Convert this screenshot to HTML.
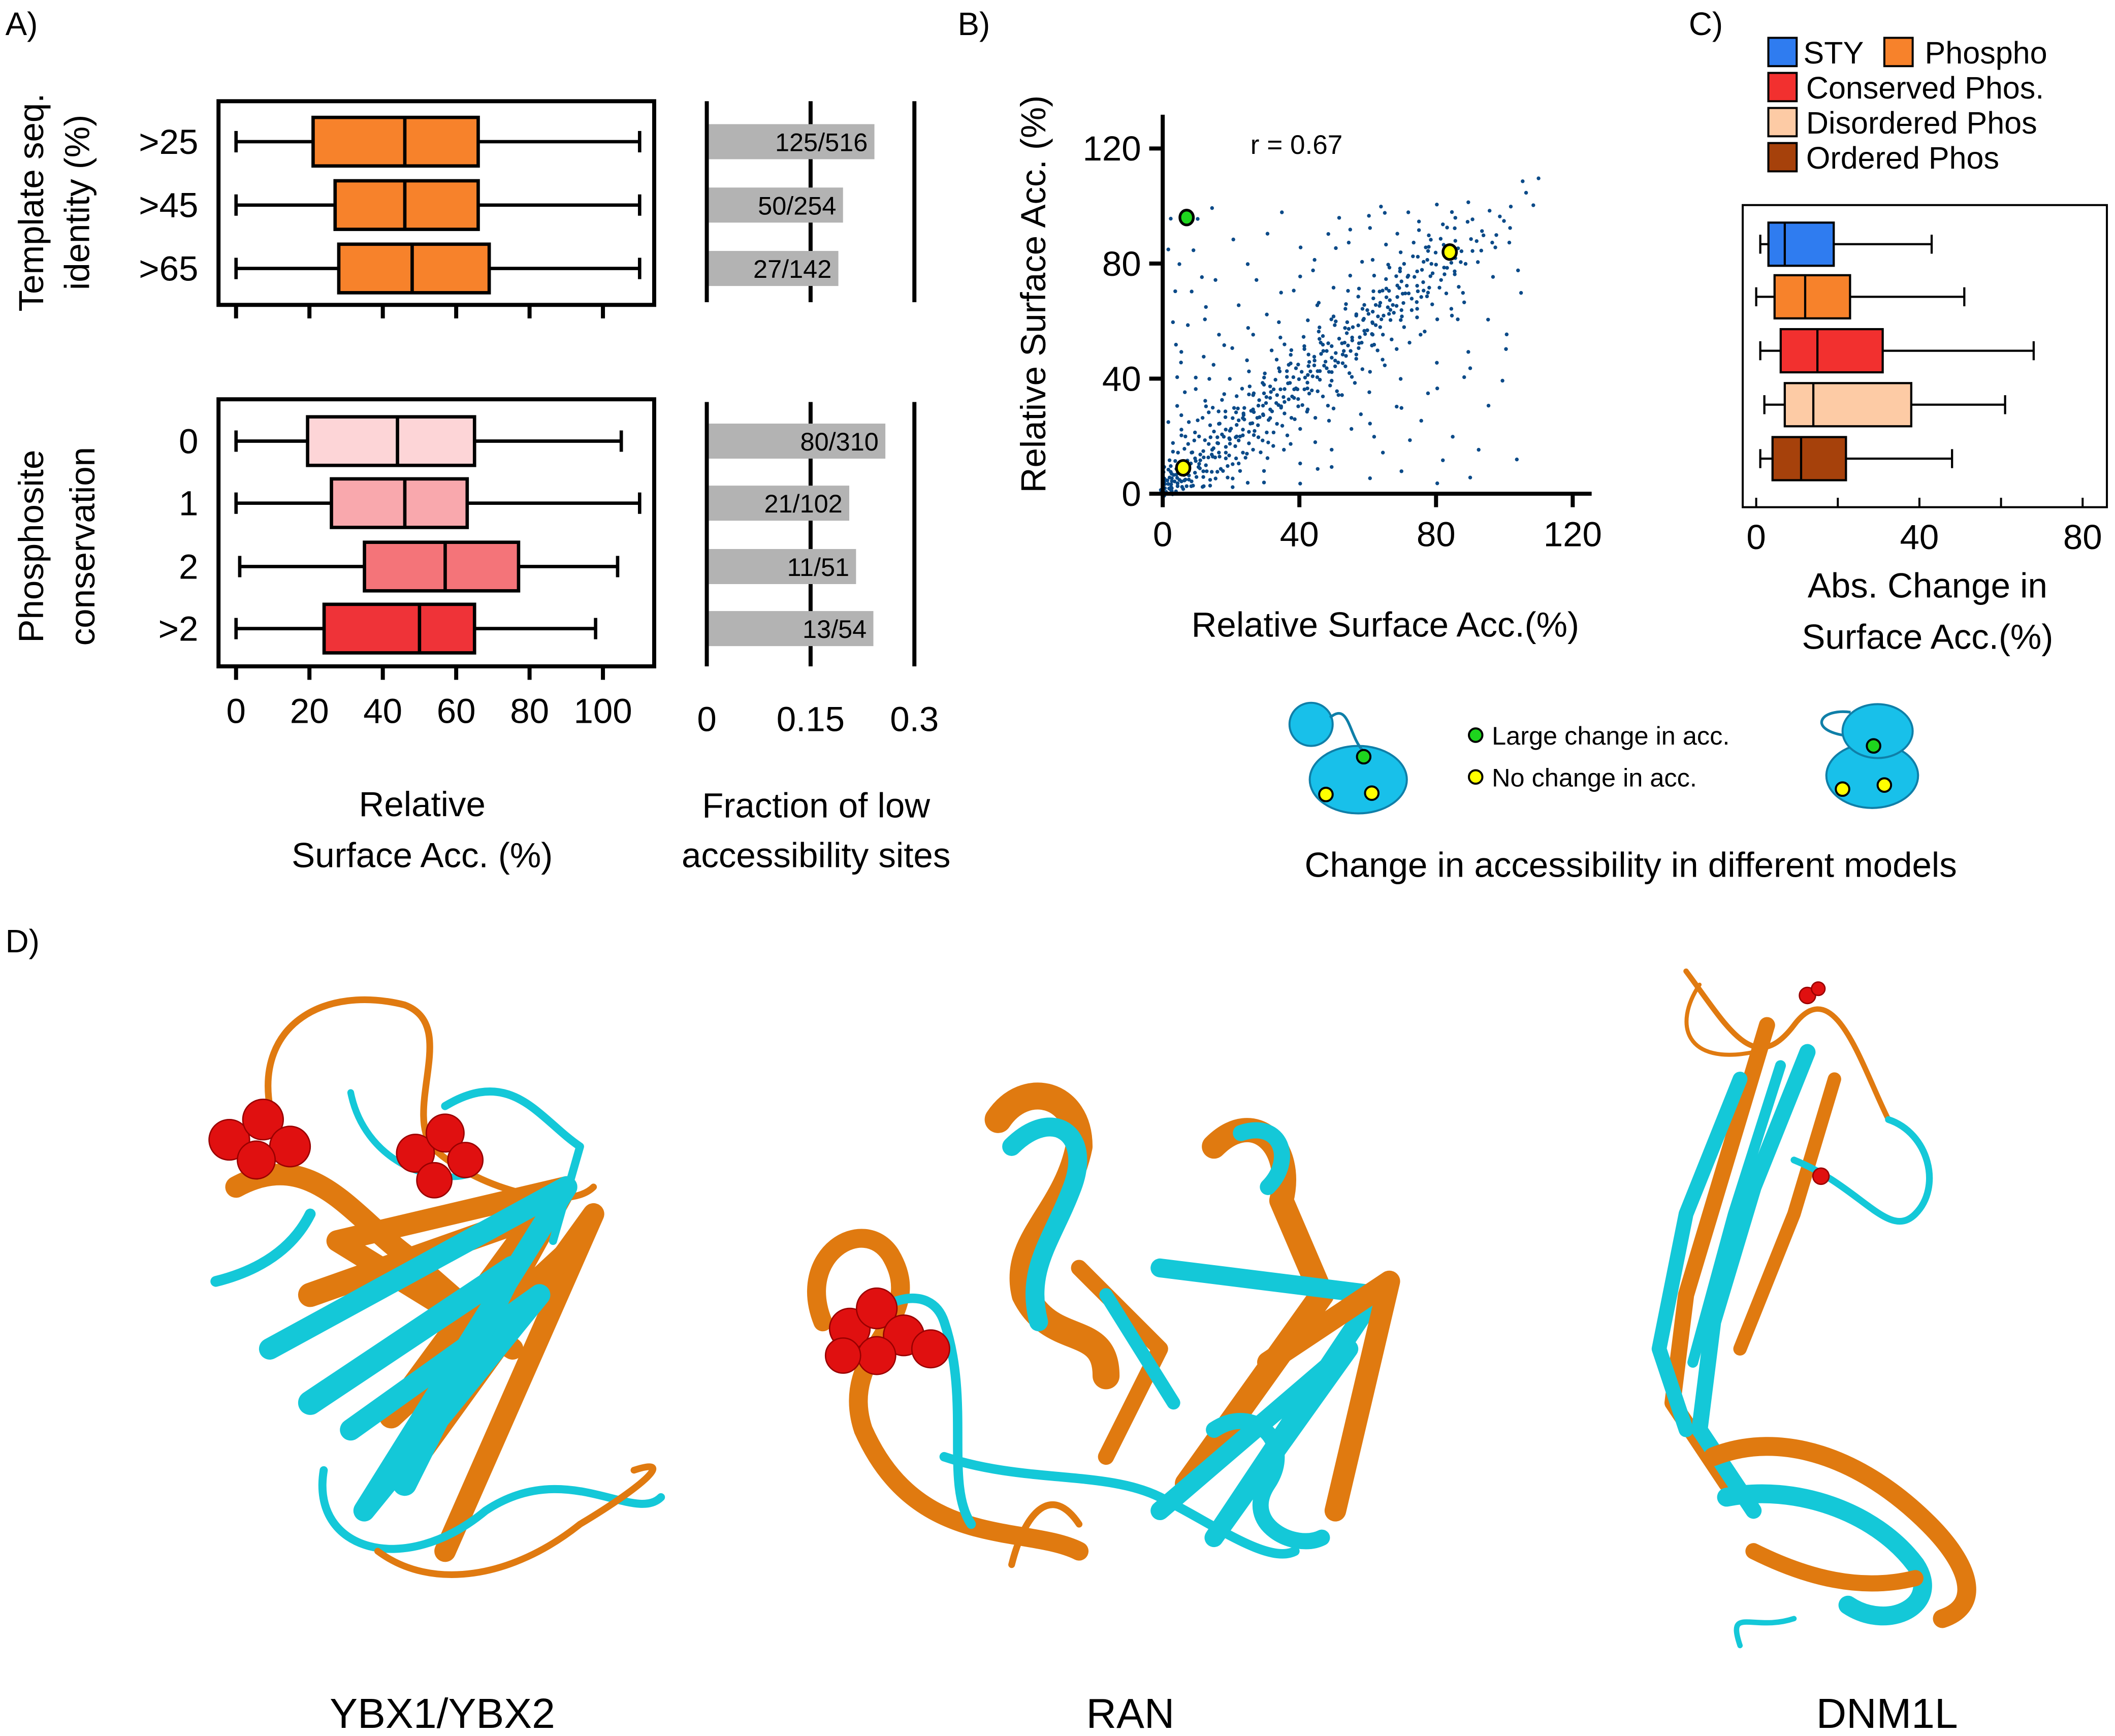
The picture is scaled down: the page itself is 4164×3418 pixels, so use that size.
<!DOCTYPE html>
<html><head><meta charset="utf-8">
<style>
html,body{margin:0;padding:0;background:#fff;}
svg{display:block;font-family:"Liberation Sans",Arial,sans-serif;}
</style></head>
<body>
<svg id="fig" xmlns="http://www.w3.org/2000/svg" width="4164" height="3418" viewBox="0 0 1568 1287">
<rect width="1568" height="1287" fill="#fff"/>
<g id="pa"></g>
<g id="pb"></g>
<g id="pc"></g>
<g id="pd"></g>
</svg>
<script>
// ---------- data ----------
const topCats = [">25", ">45", ">65"];
const topStats = [[0,21,46,66,110],[0,27,46,66,110],[0,28,48,69,110]];
const botCats = ["0","1","2",">2"];
const botStats = [[0,19.5,44,65,105],[0,26,46,63,110],[1,35,57,77,104],[0,24,50,65,98]];
const botColors = ["#fdd5d7","#f9a8ad","#f47479","#ef3338"];
const fracTopLabels = ["125/516","50/254","27/142"];
const fracTopNum = [125,50,27], fracTopDen = [516,254,142];
const fracBotLabels = ["80/310","21/102","11/51","13/54"];
const fracBotNum = [80,21,11,13], fracBotDen = [310,102,51,54];
const rsaTicks = [0,20,40,60,80,100];
const fracTicks = [0,0.15,0.3];
const fracTickLabels = ["0","0.15","0.3"];
const cCats = ["STY","Phospho","Conserved Phos.","Disordered Phos","Ordered Phos"];
const cStats = [[1,3,7,19,43],[0,4.5,12,23,51],[1,6,15,31,68],[2,7,14,38,61],[1,4,11,22,48]];
const cColors = ["#2f7cf0","#f7822b","#f2302f","#fdcba5","#a6410b"];
const cTicks = [0,40,80];
const bTicks = [0,40,80,120];
const scatterPts = "1,1 2,3 3,1 4,5 1,6 5,2 6,7 2,9 7,3 3,4 8,8 5,10 9,5 1,3 4,1 6,4 2,12 10,9 3,7 7,11 0,2 1,8 12,6 8,2 11,12 4,14 1,2 2,1 3,3 2,5 5,5 4,3 6,2 0,4 1,5 3,6 5,8 7,6 9,3 2,7 4,9 6,9 8,5 0,7 1,10 3,11 2,2 1,4 4,7 5,4 3,2 6,6 0,1 2,4 12,15 15,12 14,20 18,16 20,22 22,18 17,25 25,24 24,30 28,26 19,10 13,28 27,35 30,31 32,27 26,20 21,30 35,33 33,40 38,36 36,28 29,38 31,22 40,42 37,45 42,38 16,8 23,14 11,20 9,18 34,25 39,30 43,35 44,47 46,43 41,50 48,46 45,40 50,52 52,48 47,55 53,57 55,50 49,42 51,60 57,58 58,53 56,62 60,64 62,58 59,66 63,70 65,62 61,55 66,72 68,68 70,74 67,65 72,70 74,77 71,80 76,73 78,82 75,68 80,84 82,78 77,86 84,80 86,88 83,92 88,85 90,95 92,88 5,45 3,60 8,70 2,85 10,95 15,100 20,88 25,80 12,60 18,52 6,35 14,40 22,65 28,75 30,90 35,98 40,85 34,60 26,55 8,25 4,30 16,75 24,46 32,50 38,70 44,78 48,90 52,96 45,65 55,88 60,92 64,100 58,80 50,72 42,60 36,52 54,70 62,82 68,90 72,98 66,78 75,95 78,88 85,98 80,100 90,102 95,98 100,95 105,108 110,110 108,100 98,90 92,80 102,88 96,75 88,70 86,60 104,78 20,5 30,8 40,3 50,10 60,5 70,8 80,3 90,6 35,15 45,18 55,22 65,15 75,25 85,20 95,30 50,30 60,35 70,40 80,45 90,50 100,55 105,70 55,40 65,45 75,55 85,62 95,60 100,40 30,12 25,4 45,8 58,28 68,30 78,35 88,40 38,18 48,25 62,20 72,18 82,12 92,15 104,12 42,28 52,35 10,10 12,8 14,13 16,18 18,14 20,19 22,25 24,21 26,28 28,24 30,33 32,29 34,36 36,32 38,40 40,37 42,44 44,41 46,48 48,44 50,46 52,54 54,51 56,55 58,60 60,57 62,65 64,61 66,67 68,63 70,69 72,73 74,70 76,78 78,75 80,80 13,17 17,13 21,16 19,23 23,27 27,22 29,30 31,26 33,34 35,30 37,38 39,34 41,40 43,46 45,42 47,50 49,47 51,49 53,52 55,58 57,54 59,61 61,59 63,62 65,68 67,64 69,71 71,67 73,75 15,16 17,20 11,14 9,12 13,10 7,9 6,11 8,14 10,6 14,7 15,22 19,19 23,20 25,17 27,30 31,35 34,31 36,40 39,44 42,41 44,36 47,44 49,53 52,45 54,56 57,50 59,57 61,63 64,58 66,62 69,66 71,75 73,68 76,70 79,77 81,74 84,84 87,80 20,14 16,24 24,26 18,28 28,20 32,36 40,33 46,52 50,40 56,48 62,52 64,70 70,62 74,64 78,70 82,86 86,78 90,84 94,90 97,85 12,3 15,5 18,8 22,10 9,15 11,2 14,3 6,15 3,18 5,22 7,20 10,25 13,33 9,40 4,52 7,58 12,48 16,55 20,40 23,36 10,22 12,30 14,5 16,28 18,35 20,10 22,34 24,12 26,38 28,14 30,42 32,16 34,44 36,20 38,50 40,22 42,52 44,26 46,58 48,30 50,62 52,34 54,66 56,38 58,72 60,42 62,76 64,46 66,80 68,50 70,84 72,52 74,88 76,56 78,90 80,60 82,94 84,64 86,96 88,66 8,18 11,26 13,8 17,32 19,6 21,28 23,8 25,34 27,16 29,40 31,18 33,46 35,24 37,48 39,26 41,54 43,30 45,56 47,34 49,60 51,36 53,64 55,42 57,68 59,44 61,70 63,50 65,74 67,54 69,78 71,58 73,82 75,62 77,84 79,66 81,88 83,70 85,92 87,72 89,94 6,28 9,36 15,45 20,50 25,58 30,62 35,70 40,75 45,82 50,85 55,92 60,96 65,98 20,2 30,4 40,10 50,16 60,24 70,30 80,36 90,44 100,50 15,30 25,42 35,55 45,66 55,76 65,86 75,92 18,12 22,20 26,24 30,28 34,30 38,34 42,36 46,40 50,44 54,48 58,52 62,56 66,60 70,64 74,66 78,72 82,76 86,82 90,88 94,92 98,96 102,100 106,104 17,9 21,12 25,14 29,18 33,22 37,26 41,31 45,35 49,38 53,44 57,47 61,51 65,56 69,60 73,64 77,68 81,72 85,76 89,80 93,84 97,88 101,92 14,24 18,26 22,30 26,34 30,38 34,42 38,46 42,48 46,54 50,58 54,60 58,64 62,68 66,70 70,78 74,82 78,86 12,18 16,20 20,26 24,28 28,32 32,34 36,38 40,40 44,44 48,50 52,52 56,58 60,62 64,66 68,72 72,76 76,80 3,15 5,20 2,25 4,40 6,50 3,70 5,80 2,95 9,85 11,75 13,65 0,0 1,0 0,3 3,0 4,2 2,6 5,7 7,5 8,10 10,8 9,11 11,9 13,12 12,13 14,15 15,13 16,17 17,15 19,17 18,20 21,19 20,23 23,22 22,24 25,21 24,27 27,26 26,29 29,27 28,31 31,29 30,35 33,31 32,38 35,36 37,33 36,42 39,37 41,36 40,45 43,42 45,47 48,42 47,52 51,45 53,50 55,53 57,62 59,55 62,60 63,66 66,65 68,75 71,70 74,72 79,80 83,78 87,86";
const scatterX = scatterPts.split(" ").map(p=>+p.split(",")[0]);
const scatterY = scatterPts.split(" ").map(p=>+p.split(",")[1]);
const highlightX = [7, 84, 6];
const highlightY = [96, 84, 9];
const highlightFill = ["#1ed51e","#ffff00","#ffff00"];

// ---------- helpers ----------
const NS="http://www.w3.org/2000/svg";
function mk(parent,tag,attrs,text){const e=document.createElementNS(NS,tag);for(const k in attrs)e.setAttribute(k,attrs[k]);if(text!==undefined)e.textContent=text;parent.appendChild(e);return e;}
const pa=document.getElementById('pa'),pb=document.getElementById('pb'),pc=document.getElementById('pc'),pd=document.getElementById('pd');
const TXT={fill:"#000","font-size":"26"};

// ---------- panel A ----------
let t=mk(pa,'text',{x:4,y:26,"font-size":"24"},"A)");


const ax = v => 175 + v*2.72;
function boxplot(g,stats,cy,h,color,xf,sw){
  const [mn,q1,md,q3,mx]=stats;
  let l=mk(g,'line',{x1:xf(mn),x2:xf(q1),y1:cy,y2:cy,stroke:"#000","stroke-width":sw});
  
  
  l=mk(g,'line',{x1:xf(q3),x2:xf(mx),y1:cy,y2:cy,stroke:"#000","stroke-width":sw});
  
  
  l=mk(g,'line',{x1:xf(mn),x2:xf(mn),y1:cy-h*0.22,y2:cy+h*0.22,stroke:"#000","stroke-width":sw});
  
  
  l=mk(g,'line',{x1:xf(mx),x2:xf(mx),y1:cy-h*0.22,y2:cy+h*0.22,stroke:"#000","stroke-width":sw});
  
  
  const r=mk(g,'rect',{x:xf(q1),y:cy-h/2,width:xf(q3)-xf(q1),height:h,fill:color,stroke:"#000","stroke-width":sw});
  
  
  l=mk(g,'line',{x1:xf(md),x2:xf(md),y1:cy-h/2,y2:cy+h/2,stroke:"#000","stroke-width":sw});
  
  
}
let fr=mk(pa,'rect',{x:162,y:75,width:323,height:151,fill:"none",stroke:"#000","stroke-width":3});


const topY=[105,152,199];
topCats.forEach((c,i)=>{
  const g=mk(pa,'g',{});
  
  
  boxplot(g,topStats[i],topY[i],36,"#f7822b",ax,2.5);
  const lt=mk(pa,'text',Object.assign({x:147,y:topY[i]+9,"text-anchor":"end"},TXT),c);
  
  
});
rsaTicks.forEach(v=>{const l=mk(pa,'line',{x1:ax(v),x2:ax(v),y1:226,y2:236,stroke:"#000","stroke-width":3});
  
  });
t=mk(pa,'text',{x:0,y:0,"font-size":"26",transform:"translate(32,150) rotate(-90)","text-anchor":"middle"},"Template seq.");


t=mk(pa,'text',{x:0,y:0,"font-size":"26",transform:"translate(66,150) rotate(-90)","text-anchor":"middle"},"identity (%)");


fr=mk(pa,'rect',{x:162,y:296,width:323,height:198,fill:"none",stroke:"#000","stroke-width":3});


const botY=[327,373,420,466];
botCats.forEach((c,i)=>{
  const g=mk(pa,'g',{});
  
  
  boxplot(g,botStats[i],botY[i],36,botColors[i],ax,2.5);
  const lt=mk(pa,'text',Object.assign({x:147,y:botY[i]+9,"text-anchor":"end"},TXT),c);
  
  
});
rsaTicks.forEach(v=>{const l=mk(pa,'line',{x1:ax(v),x2:ax(v),y1:494,y2:504,stroke:"#000","stroke-width":3});
  
  
  const tl=mk(pa,'text',Object.assign({x:ax(v),y:536,"text-anchor":"middle"},TXT),String(v));
  
  });
t=mk(pa,'text',{x:0,y:0,"font-size":"26",transform:"translate(32,405) rotate(-90)","text-anchor":"middle"},"Phosphosite");


t=mk(pa,'text',{x:0,y:0,"font-size":"26",transform:"translate(70,405) rotate(-90)","text-anchor":"middle"},"conservation");


t=mk(pa,'text',Object.assign({x:313,y:605,"text-anchor":"middle"},TXT),"Relative");


t=mk(pa,'text',Object.assign({x:313,y:643,"text-anchor":"middle"},TXT),"Surface Acc. (%)");


const fx = v => 524 + v*513;
[[75,224],[298,494]].forEach(([y1,y2])=>{
  fracTicks.forEach(v=>{const l=mk(pa,'line',{x1:fx(v),x2:fx(v),y1:y1,y2:y2,stroke:"#000","stroke-width":3});
    
    });
});
function fracBars(labels,num,den,ys){
  labels.forEach((lab,i)=>{
    const v=num[i]/den[i];
    const r=mk(pa,'rect',{x:fx(0)+1.5,y:ys[i]-13,width:fx(v)-fx(0)-1.5,height:26,fill:"#b3b3b3"});
    
    
    const tl=mk(pa,'text',{x:fx(v)-5,y:ys[i]+7,"text-anchor":"end","font-size":"19"},lab);
    
    
  });
}
fracBars(fracTopLabels,fracTopNum,fracTopDen,topY);
fracBars(fracBotLabels,fracBotNum,fracBotDen,botY);
fracTicks.forEach((v,i)=>{const tl=mk(pa,'text',Object.assign({x:fx(v),y:542,"text-anchor":"middle"},TXT),fracTickLabels[i]);
  
  });
t=mk(pa,'text',Object.assign({x:605,y:606,"text-anchor":"middle"},TXT),"Fraction of low");


t=mk(pa,'text',Object.assign({x:605,y:643,"text-anchor":"middle"},TXT),"accessibility sites");



// ---------- panel B ----------
t=mk(pb,'text',{x:710,y:26,"font-size":"24"},"B)");


const bx=v=>862+v*2.533, by=v=>366-v*2.133;
const jx=[0,1.2,-0.9,0.6,-1.4,1.7,-0.3,0.9];
const jy=[0.8,-1.1,0.4,-0.6,1.5,-1.3,0.2,-0.8];
scatterX.forEach((x,i)=>{const c=mk(pb,'circle',{cx:bx(x)+jx[i%8],cy:by(scatterY[i])+jy[(i*3)%8],r:1.4,fill:"#0b4a88"});
  
  });
highlightX.forEach((x,i)=>{const c=mk(pb,'ellipse',{cx:bx(x),cy:by(highlightY[i]),rx:5,ry:5.5,fill:highlightFill[i],stroke:"#000","stroke-width":2});
  
  });
let l=mk(pb,'line',{x1:862,x2:862,y1:85,y2:368,stroke:"#000","stroke-width":3});


l=mk(pb,'line',{x1:860,x2:1180,y1:366,y2:366,stroke:"#000","stroke-width":3});


bTicks.forEach(v=>{
  let k=mk(pb,'line',{x1:bx(v),x2:bx(v),y1:366,y2:376,stroke:"#000","stroke-width":3});
  
  
  k=mk(pb,'line',{x1:852,x2:862,y1:by(v),y2:by(v),stroke:"#000","stroke-width":3});
  
  
  let tl=mk(pb,'text',Object.assign({x:bx(v),y:405,"text-anchor":"middle"},TXT),String(v));
  
  
  tl=mk(pb,'text',Object.assign({x:846,y:by(v)+9,"text-anchor":"end"},TXT),String(v));
  
  
});
t=mk(pb,'text',{x:927,y:114,"font-size":"20"},"r = 0.67");


t=mk(pb,'text',Object.assign({x:1027,y:472,"text-anchor":"middle"},TXT),"Relative Surface Acc.(%)");


t=mk(pb,'text',{x:0,y:0,"font-size":"26",transform:"translate(775,218) rotate(-90)","text-anchor":"middle"},"Relative Surface Acc. (%)");


const sch=mk(pb,'g',{});


mk(sch,'ellipse',{cx:1007,cy:578,rx:36,ry:25,fill:"#18c0ea",stroke:"#0f7fa8","stroke-width":1.5});
mk(sch,'ellipse',{cx:972,cy:537,rx:16,ry:16,fill:"#18c0ea",stroke:"#0f7fa8","stroke-width":1.5});
mk(sch,'path',{d:"M986,532 C1000,520 1000,545 1010,556",fill:"none",stroke:"#0f7fa8","stroke-width":2});
mk(sch,'circle',{cx:1011,cy:561,r:5,fill:"#1ed51e",stroke:"#000","stroke-width":1.5});
mk(sch,'circle',{cx:983,cy:589,r:5,fill:"#ffff00",stroke:"#000","stroke-width":1.5});
mk(sch,'circle',{cx:1017,cy:588,r:5,fill:"#ffff00",stroke:"#000","stroke-width":1.5});
mk(sch,'ellipse',{cx:1388,cy:575,rx:34,ry:24,fill:"#18c0ea",stroke:"#0f7fa8","stroke-width":1.5});
mk(sch,'ellipse',{cx:1392,cy:542,rx:26,ry:20,fill:"#18c0ea",stroke:"#0f7fa8","stroke-width":1.5});
mk(sch,'path',{d:"M1366,545 C1340,540 1350,525 1372,528",fill:"none",stroke:"#0f7fa8","stroke-width":2});
mk(sch,'circle',{cx:1389,cy:553,r:5,fill:"#1ed51e",stroke:"#000","stroke-width":1.5});
mk(sch,'circle',{cx:1366,cy:585,r:5,fill:"#ffff00",stroke:"#000","stroke-width":1.5});
mk(sch,'circle',{cx:1397,cy:582,r:5,fill:"#ffff00",stroke:"#000","stroke-width":1.5});
let c=mk(pb,'circle',{cx:1094,cy:545,r:5,fill:"#1ed51e",stroke:"#000","stroke-width":1.5});


t=mk(pb,'text',{x:1106,y:552,"font-size":"19"},"Large change in acc.");


c=mk(pb,'circle',{cx:1094,cy:576,r:5,fill:"#ffff00",stroke:"#000","stroke-width":1.5});


t=mk(pb,'text',{x:1106,y:583,"font-size":"19"},"No change in acc.");


t=mk(pb,'text',Object.assign({x:1209,y:650,"text-anchor":"middle"},TXT),"Change in accessibility in different models");



// ---------- panel C ----------
t=mk(pc,'text',{x:1252,y:26,"font-size":"24"},"C)");


const legPos=[[1311,28],[1397,28],[1311,54],[1311,80],[1311,106]];
const legText=["STY","Phospho","Conserved Phos.","Disordered Phos","Ordered Phos"];
legText.forEach((s,i)=>{
  const [x,y]=legPos[i];
  const r=mk(pc,'rect',{x:x,y:y,width:21,height:21,fill:cColors[i],stroke:"#000","stroke-width":1.5});
  
  
  const tl=mk(pc,'text',{x:x+(i==0?26:i==1?30:28),y:y+19,"font-size":"23"},s);
  
  
});
fr=mk(pc,'rect',{x:1292,y:152,width:270,height:224,fill:"none",stroke:"#000","stroke-width":1.5});


const cx=v=>1302+v*3.025;
const cY=[181,220,260,300,340];
cCats.forEach((s,i)=>{
  const g=mk(pc,'g',{});
  
  
  boxplot(g,cStats[i],cY[i],32,cColors[i],cx,1.6);
});
cTicks.forEach(v=>{
  const k=mk(pc,'line',{x1:cx(v),x2:cx(v),y1:369,y2:376,stroke:"#000","stroke-width":1.5});
  
  
  const tl=mk(pc,'text',Object.assign({x:cx(v),y:407,"text-anchor":"middle"},TXT),String(v));
  
  
});
[20,60].forEach(v=>{const k=mk(pc,'line',{x1:cx(v),x2:cx(v),y1:369,y2:376,stroke:"#000","stroke-width":1.5});
  
  });
t=mk(pc,'text',Object.assign({x:1429,y:443,"text-anchor":"middle"},TXT),"Abs. Change in");


t=mk(pc,'text',Object.assign({x:1429,y:481,"text-anchor":"middle"},TXT),"Surface Acc.(%)");



// ---------- panel D ----------
t=mk(pd,'text',{x:4,y:706,"font-size":"24"},"D)");


function structure(name,paths,spheres){
  const g=mk(pd,'g',{});
  
  
  paths.forEach(p=>mk(g,'path',{d:p[0],fill:"none",stroke:p[1],"stroke-width":p[2],"stroke-linecap":"round","stroke-linejoin":"round"}));
  spheres.forEach(s=>mk(g,'circle',{cx:s[0],cy:s[1],r:s[2],fill:"#e01010",stroke:"#900","stroke-width":1}));
  return g;
}
const O="#e07a10",C="#14c8d8";
structure('ybx1-structure',[
 ["M200,820 C190,760 240,730 300,745 C340,760 300,820 320,850 C350,880 420,900 440,880",O,5],
 ["M175,880 C230,850 260,900 300,930 L380,1000 L250,920 L420,880 L310,1080 L440,900 L330,1150",O,16],
 ["M230,960 L400,900 L290,1050 L420,930",O,18],
 ["M200,1000 L420,880 L270,1120 L400,960 L260,1060",C,16],
 ["M230,1040 L380,940 L300,1100",C,18],
 ["M240,1090 C230,1150 300,1170 360,1120 C420,1080 470,1130 490,1110",C,6],
 ["M280,1150 C320,1180 380,1170 430,1130 C480,1100 500,1080 470,1090",O,5],
 ["M330,820 C380,790 400,830 430,850 L410,920",C,6],
 ["M260,810 C270,860 320,880 350,870",C,5],
 ["M160,950 C200,940 220,920 230,900",C,8]
],[[170,845,15],[195,830,15],[215,850,15],[190,860,14],[308,855,14],[330,840,14],[345,860,13],[322,875,13]]);
structure('ran-structure',[
 ["M610,980 C590,930 640,900 660,930 C690,980 620,1000 640,1060 C680,1150 760,1130 800,1150",O,14],
 ["M740,830 C760,800 800,810 800,850 C790,900 750,920 760,960 C780,1000 820,980 820,1020",O,20],
 ["M750,850 C780,820 810,840 795,880 C780,920 760,940 770,980",C,14],
 ["M900,850 C930,820 960,850 950,890 L980,960 L880,1100",O,18],
 ["M920,840 C950,830 960,860 940,880",C,12],
 ["M860,940 L1020,960 L900,1140 L1000,1000 L860,1120",C,14],
 ["M900,1060 C930,1040 960,1070 940,1100 C920,1130 960,1150 980,1140",C,12],
 ["M940,1010 L1030,950 L990,1120",O,16],
 ["M800,940 L860,1000 L820,1080",O,12],
 ["M820,960 L870,1040",C,10],
 ["M620,1000 C650,960 690,950 700,980 C720,1040 700,1100 720,1130",C,7],
 ["M700,1080 C760,1100 820,1090 860,1110 C900,1130 940,1160 960,1150",C,7],
 ["M750,1160 C760,1120 780,1100 800,1130",O,5]
],[[630,985,15],[650,970,15],[670,990,15],[650,1005,14],[690,1000,14],[625,1005,13]]);
structure('dnm1l-structure',[
 ["M1250,720 C1280,760 1300,800 1330,760 C1360,720 1380,790 1400,830",O,4],
 ["M1310,760 L1280,860 L1250,960 L1240,1040 L1280,1100",O,12],
 ["M1340,780 L1300,880 L1270,980 L1260,1060 L1300,1120",C,12],
 ["M1360,800 L1330,900 L1290,1000",O,10],
 ["M1290,800 L1250,900 L1230,1000 L1250,1060",C,11],
 ["M1320,790 L1285,900 L1255,1010",C,8],
 ["M1330,860 C1380,880 1400,920 1420,900 C1440,880 1430,840 1400,830",C,5],
 ["M1270,1080 C1320,1060 1380,1080 1430,1130 C1460,1160 1470,1190 1440,1200",O,14],
 ["M1280,1110 C1330,1100 1390,1120 1420,1160 C1440,1190 1400,1210 1370,1190",C,14],
 ["M1300,1150 C1340,1170 1380,1180 1420,1170",O,12],
 ["M1260,730 C1240,760 1250,790 1300,780",O,3],
 ["M1330,1200 C1300,1210 1280,1190 1290,1220",C,4]
],[[1340,738,6],[1348,733,5],[1350,872,6]]);
[["YBX1/YBX2",328],["RAN",838],["DNM1L",1399]].forEach(([s,x])=>{
  const tl=mk(pd,'text',{x:x,y:1281,"font-size":"31","text-anchor":"middle"},s);
  
  
});
</script>
</body></html>
